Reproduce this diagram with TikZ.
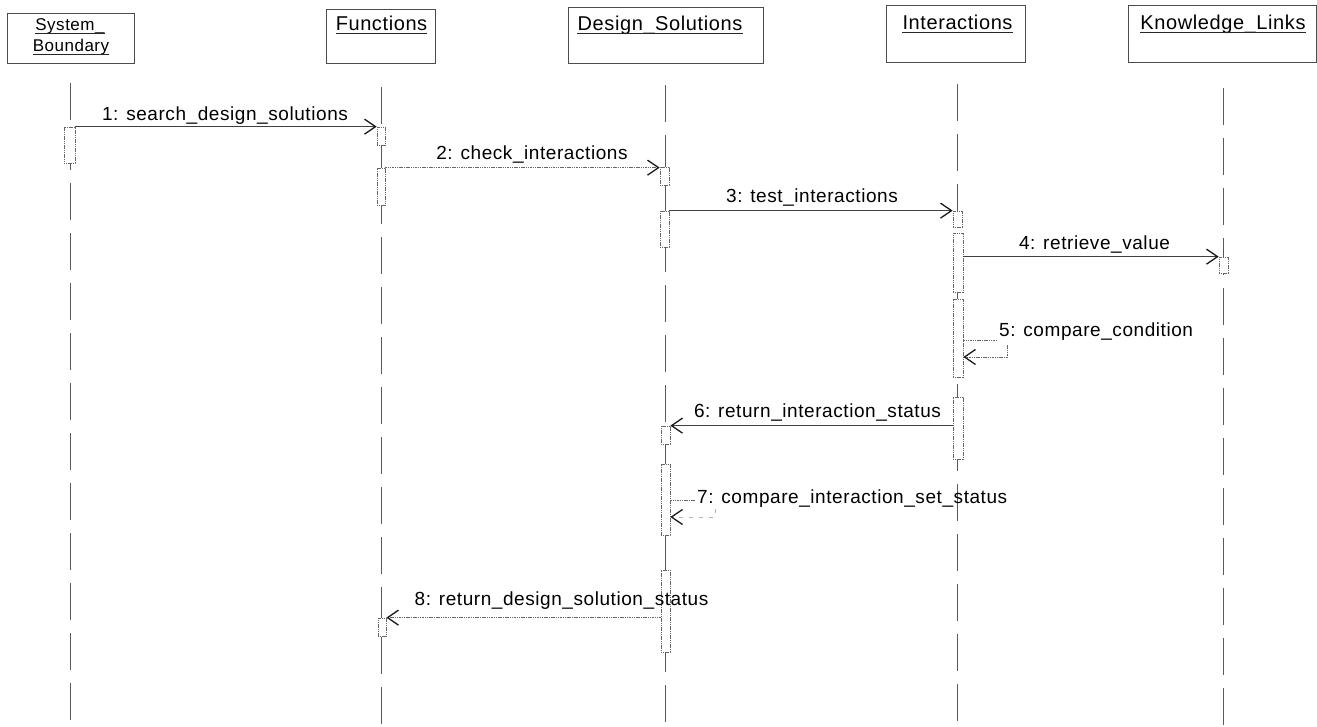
\documentclass[tikz,border=0pt]{standalone}
\usepackage{fontspec}
\setmainfont{Liberation Sans}
\newfontfamily\msgfont[LetterSpace=3]{Liberation Sans}
\usetikzlibrary{arrows.meta}
\begin{document}
\begin{tikzpicture}[x=1pt,y=-1pt,
  headbox/.style={draw=black!70, line width=0.8pt, rectangle, inner sep=0pt},
  headtext/.style={anchor=base, inner sep=0pt, font=\msgfont\fontsize{20}{22}\selectfont},
  uline/.style={draw=black!85, line width=0.9pt},
  lifeline/.style={draw=black!65, line width=0.9pt, dash pattern=on 37pt off 13pt},
  act/.style={draw=black!60, line width=0.7pt, dash pattern=on 1.2pt off 0.6pt, fill=white, rectangle, inner sep=0pt, minimum width=9pt},
  msg/.style={draw=black!75, line width=0.8pt, -{Straight Barb[length=11pt,width=15pt,line width=1.3pt,color=black!90]}},
  msgdot/.style={msg, dash pattern=on 1.5pt off 0.8pt, draw=black!60},
  plainline/.style={draw=black!60, line width=0.8pt, dash pattern=on 1.5pt off 0.8pt},
  lbl/.style={anchor=base, inner sep=0pt, font=\msgfont\fontsize{19}{21}\selectfont}
]
\useasboundingbox (0,0) rectangle (1317,727);
\fill[white] (0,0) rectangle (1317,727);

% header boxes
\node[headbox, minimum width=127pt, minimum height=50pt] (hSB) at (70.5,38) {};
\node[headbox, minimum width=109pt, minimum height=54pt] (hF) at (380.5,36) {};
\node[headbox, minimum width=195pt, minimum height=56pt] (hDS) at (665.5,35) {};
\node[headbox, minimum width=139pt, minimum height=57pt] (hI) at (955.5,33.5) {};
\node[headbox, minimum width=188pt, minimum height=57pt] (hKL) at (1222.5,33.5) {};

\node[headtext, font=\msgfont\fontsize{17}{19}\selectfont] (tSB1) at (70,31) {System\_};
\node[headtext, font=\msgfont\fontsize{17}{19}\selectfont] (tSB2) at (71,52) {Boundary};
\node[headtext] (tF) at (381.5,31) {Functions};
\node[headtext] (tDS) at (660,31) {Design\_Solutions};
\node[headtext] (tI) at (957.5,30) {Interactions};
\node[headtext] (tKL) at (1223,30) {Knowledge\_Links};
\foreach \t in {tSB1,tSB2,tF,tDS,tI,tKL}
  \draw[uline] ([yshift=-2.6pt]\t.base west) -- ([yshift=-2.6pt]\t.base east);

% lifeline coordinates
\coordinate (lSBt) at (70,83);   \coordinate (lSBb) at (70,727);
\coordinate (lFt) at (381,87);   \coordinate (lFb) at (381,727);
\coordinate (lDSt) at (665,85);  \coordinate (lDSb) at (665,727);
\coordinate (lIt) at (957.5,84); \coordinate (lIb) at (957.5,727);
\coordinate (lKLt) at (1223,88); \coordinate (lKLb) at (1223,727);
\draw[lifeline] (lSBt) -- (lSBb);
\draw[lifeline] (lFt) -- (lFb);
\draw[lifeline] (lDSt) -- (lDSb);
\draw[lifeline] (lIt) -- (lIb);
\draw[lifeline] (lKLt) -- (lKLb);

% activation boxes
\node[act, minimum width=11pt, minimum height=36pt] (sbA) at (69.5,145) {};
\node[act, minimum width=8pt, minimum height=18pt] (fA) at (381,136) {};
\node[act, minimum width=8pt, minimum height=37pt] (fB) at (381,186.5) {};
\node[act, minimum height=18pt] (dsA) at (664.5,176) {};
\node[act, minimum height=36pt] (dsB) at (664.5,229) {};
\node[act, minimum height=16pt] (iA) at (957.5,219) {};
\node[act, minimum width=10pt, minimum height=59pt] (iB) at (958,262.5) {};
\node[act, minimum height=16pt] (kA) at (1223.5,265) {};
\node[act, minimum width=10pt, minimum height=78pt] (iC) at (958,338) {};
\node[act, minimum width=10pt, minimum height=62pt] (iD) at (958,428) {};
\node[act, minimum height=18pt] (dsC) at (665.5,435) {};
\node[act, minimum height=71pt] (dsD) at (665.5,499.5) {};
\node[act, minimum height=82pt] (dsE) at (665.5,611) {};
\node[act, minimum width=8pt, minimum height=18pt] (fC) at (382,627) {};

% messages
\draw[msg] (sbA.north east) -- (fA.north west);
\node[lbl] (m1) at (225,121) {1: search\_design\_solutions};

\draw[msgdot] (fB.north east) -- (fB.north east -| dsA.west);
\node[lbl] (m2) at (532,160) {2: check\_interactions};

\draw[msg] (dsB.north east) -- (dsB.north east -| iA.west);
\node[lbl] (m3) at (812,203) {3: test\_interactions};

\draw[msg] (kA.north west -| iB.east) -- (kA.north west);
\node[lbl] (m4) at (1094.5,250) {4: retrieve\_value};

% self message 5
\coordinate (s5a) at (997,340);
\coordinate (s5b) at (1007,345);
\coordinate (s5c) at (1007,357);
\draw[plainline] (iC.east |- s5a) -- (s5a);
\draw[msgdot] (s5b) -- (s5c) -- (s5c -| iC.east);
\node[lbl, anchor=base west] (m5) at (999,337) {5: compare\_condition};

\draw[msg] (iD.west |- dsC.north) -- (dsC.north east);
\node[lbl] (m6) at (817.5,417) {6: return\_interaction\_status};

% self message 7
\coordinate (s7a) at (695,500);
\coordinate (s7b) at (715,509);
\coordinate (s7c) at (715,517);
\draw[plainline] (dsD.east |- s7a) -- (s7a);
\draw[msgdot, draw=black!30, dash pattern=on 4pt off 6pt] (s7b) -- (s7c) -- (s7c -| dsD.east);
\node[lbl, anchor=base west] (m7) at (697,503) {7: compare\_interaction\_set\_status};

\draw[msgdot] (dsE.west |- fC.north) -- (fC.north east);
\node[lbl] (m8) at (561.5,605) {8: return\_design\_solution\_status};
\end{tikzpicture}
\end{document}
